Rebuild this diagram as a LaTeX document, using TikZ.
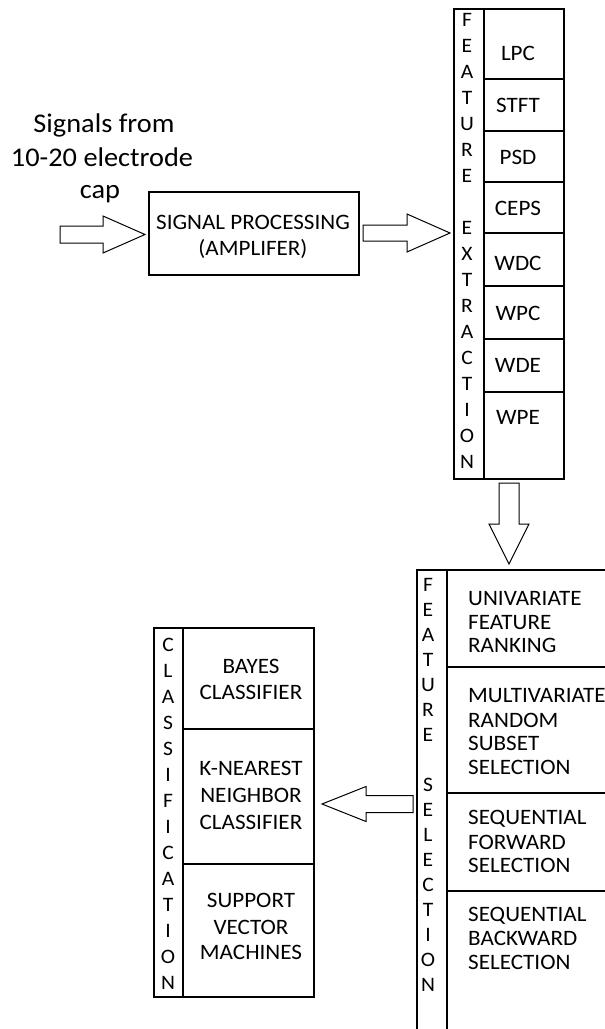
\documentclass[tikz,border=0pt]{standalone}
\usepackage{fontspec}
\setmainfont{Carlito}[FakeStretch=1.05]
\usetikzlibrary{calc}
\tikzset{
  box/.style={draw, line width=1.4pt, inner sep=0pt, fill=none},
  blockarrow/.style={draw, line width=1pt, line join=miter},
  lab/.style={font=\fontsize{22}{25}\selectfont, inner sep=0pt, anchor=base},
  labw/.style={font=\fontsize{22}{25}\selectfont, inner sep=0pt, anchor=base west},
  letter/.style={font=\fontsize{20.5}{24}\selectfont, inner sep=0pt, anchor=base},
  big/.style={font=\fontsize{27}{33}\selectfont, inner sep=0pt, anchor=base},
}
% #1 tail, #2 tip, #3 shaft half width, #4 head half width, #5 head length
\newcommand\blockarr[5]{%
  \coordinate (bab) at ($(#2)!#5!(#1)$);
  \draw[blockarrow] ($(#1)!#3!90:(#2)$) -- ($(bab)!#3!90:(#2)$) -- ($(bab)!#4!90:(#2)$) -- (#2)
    -- ($(bab)!#4!-90:(#2)$) -- ($(bab)!#3!-90:(#2)$) -- ($(#1)!#3!-90:(#2)$) -- cycle;}
\begin{document}
\begin{tikzpicture}[x=1pt,y=-1pt]
\useasboundingbox (0,0) rectangle (605,1029);
\clip (0,0) rectangle (605,1029);

% input text
\node[big] (s1) at (104,132) {Signals from};
\node[big] (s2) at (102,166) {10-20 electrode};
\node[big] (s3) at (100,198) {cap};

% signal processing
\node[box, minimum width=210pt, minimum height=83pt] (sp) at (254,233.5) {};
\node[lab] at (253,229) {SIGNAL PROCESSING};
\node[lab] at (253,255) {(AMPLIFER)};

% feature extraction
\node[box, minimum width=30pt, minimum height=470pt] (fecol) at (469,244) {};
\foreach \a/\b/\n in {9/79/lpc, 79/131/stft, 131/182/psd, 182/233/ceps,
  233/286/wdc, 286/339/wpc, 339/392/wde, 392/479/wpe}{
  \node[box, minimum width=80pt, minimum height={\b-\a}] (\n) at (524,{(\a+\b)/2}) {};
}
\foreach \t/\y in {LPC/60, STFT/112, PSD/164, CEPS/215, WDC/270, WPC/320, WDE/372, WPE/424}{
  \node[lab] at (518,\y) {\t};
}
\foreach \l [count=\i from 0] in {F,E,A,T,U,R,E}{
  \node[letter] at (467,{26.5+26*\i}) {\l};
}
\foreach \l [count=\i from 8] in {E,X,T,R,A,C,T,I,O,N}{
  \node[letter] at (467,{26.5+26*\i}) {\l};
}

% feature selection
\node[box, minimum width=30pt, minimum height=490pt] (fscol) at (432,815) {};
\node[box, minimum width=193pt, minimum height=97pt] (ufr) at (543.5,618.5) {};
\node[box, minimum width=193pt, minimum height=126pt] (mrs) at (543.5,730) {};
\node[box, minimum width=193pt, minimum height=98pt] (sfs) at (543.5,842) {};
\node[box, minimum width=193pt, minimum height=169pt] (sbs) at (543.5,975.5) {};
\foreach \t/\y in {UNIVARIATE/605, FEATURE/629, RANKING/652,
  MULTIVARIATE/702, RANDOM/727, SUBSET/750, SELECTION/774,
  SEQUENTIAL/824, FORWARD/849, SELECTION/872,
  SEQUENTIAL/921, BACKWARD/945, SELECTION/969}{
  \node[labw] at (468,\y) {\t};
}
\foreach \l [count=\i from 0] in {F,E,A,T,U,R,E}{
  \node[letter] at (428,{591.5+25*\i}) {\l};
}
\foreach \l [count=\i from 8] in {S,E,L,E,C,T,I,O,N}{
  \node[letter] at (428,{591.5+25*\i}) {\l};
}

% classification
\node[box, minimum width=29pt, minimum height=369pt] (clcol) at (168.5,812.5) {};
\node[box, minimum width=131pt, minimum height=101pt] (bay) at (248.5,678.5) {};
\node[box, minimum width=131pt, minimum height=135pt] (knn) at (248.5,796.5) {};
\node[box, minimum width=131pt, minimum height=133pt] (svm) at (248.5,930.5) {};
\foreach \t/\y in {BAYES/673, CLASSIFIER/699, K-NEAREST/775, NEIGHBOR/802, CLASSIFIER/829,
  SUPPORT/907, VECTOR/934, MACHINES/959}{
  \node[lab] at (251,\y) {\t};
}
\foreach \l [count=\i from 0] in {C,L,A,S,S,I,F,I,C,A,T,I,O,N}{
  \node[letter] at (168,{651.5+26*\i}) {\l};
}

% block arrows
\coordinate (a1s) at (60,234.5);
\coordinate (a1t) at (145,234.5);
\blockarr{a1s}{a1t}{8.5pt}{18.5pt}{42pt}
\coordinate (a2s) at (363,233);
\coordinate (a2t) at (450,233);
\blockarr{a2s}{a2t}{8pt}{19pt}{43pt}
\coordinate (a3s) at (509,483);
\coordinate (a3t) at (509,564);
\blockarr{a3s}{a3t}{10pt}{20pt}{40pt}
\coordinate (a4s) at (413,804);
\coordinate (a4t) at (322,804);
\blockarr{a4s}{a4t}{8.5pt}{17.5pt}{44pt}
\end{tikzpicture}
\end{document}
